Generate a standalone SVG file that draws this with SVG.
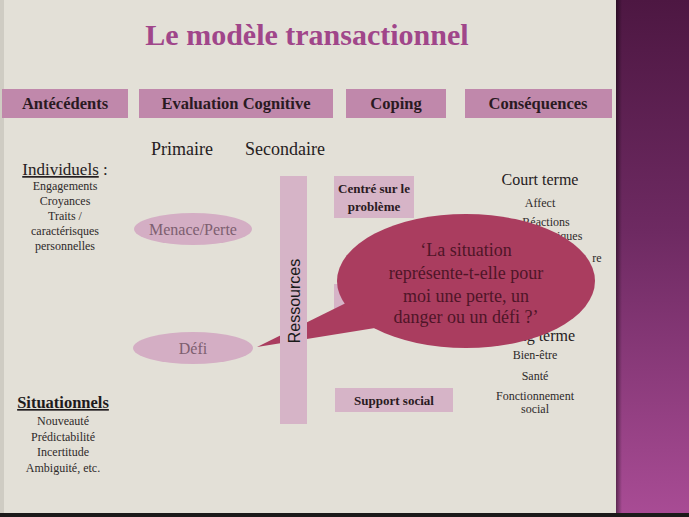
<svg xmlns="http://www.w3.org/2000/svg" width="689" height="517" viewBox="0 0 689 517">
<defs>
<linearGradient id="band" x1="0" y1="0" x2="0" y2="1">
<stop offset="0" stop-color="#4d1742"/>
<stop offset="0.45" stop-color="#6e2a62"/>
<stop offset="1" stop-color="#a94c95"/>
</linearGradient>
<linearGradient id="shadow" x1="0" y1="0" x2="1" y2="0">
<stop offset="0" stop-color="#000" stop-opacity="0.45"/>
<stop offset="1" stop-color="#000" stop-opacity="0"/>
</linearGradient>
<style>
text{font-family:'Liberation Serif','Times New Roman','DejaVu Serif',serif}
.hdr{fill:#c088ab}
.hdrt{font-weight:bold;font-size:16.5px;fill:#2a1a22;text-anchor:middle}
.box{fill:#d6b4c7}
.boxt{font-weight:bold;font-size:13px;fill:#2a1a22;text-anchor:middle}
.sub{font-size:18px;fill:#262022;text-anchor:middle}
.item{font-size:12px;fill:#2e2a2a;text-anchor:middle}
.mid{font-size:16px;fill:#262022;text-anchor:middle}
.ell{fill:#d4aec4}
.ellt{font-size:16px;fill:#7d5f70;text-anchor:middle}
.bub{fill:#aa3d5f}
.bubt{font-size:18px;fill:#4f1528;text-anchor:middle}
</style>
</defs>
<rect x="0" y="0" width="689" height="517" fill="#e3e0d7"/>
<rect x="0" y="0" width="4" height="517" fill="#cfccc3"/>
<rect x="616" y="0" width="73" height="517" fill="url(#band)"/>
<rect x="616" y="0" width="6" height="517" fill="url(#shadow)"/>
<rect x="0" y="513" width="689" height="4" fill="#1c1a1a"/>

<text id="title" x="307" y="45" font-family="Liberation Serif, Times New Roman, DejaVu Serif, serif" font-size="30" font-weight="bold" fill="#a0468a" text-anchor="middle">Le modèle transactionnel</text>

<g id="h-antecedents"><rect class="hdr" x="2" y="89" width="126" height="29"/><text class="hdrt" x="65" y="109">Antécédents</text></g>
<g id="h-evaluation"><rect class="hdr" x="139" y="89" width="194" height="29"/><text class="hdrt" x="236" y="109">Evaluation Cognitive</text></g>
<g id="h-coping"><rect class="hdr" x="346" y="89" width="100" height="29"/><text class="hdrt" x="396" y="109">Coping</text></g>
<g id="h-consequences"><rect class="hdr" x="465" y="89" width="147" height="29"/><text class="hdrt" x="538" y="109">Conséquences</text></g>

<g id="primaire"><text class="sub" x="182" y="155">Primaire</text></g>
<g id="secondaire"><text class="sub" x="285" y="155">Secondaire</text></g>

<g id="individuels">
<text x="65" y="175" font-size="17" fill="#262022" text-anchor="middle"><tspan text-decoration="underline">Individuels</tspan> :</text>
<text class="item" x="65" y="190">Engagements</text>
<text class="item" x="65" y="205">Croyances</text>
<text class="item" x="65" y="220">Traits /</text>
<text class="item" x="65" y="235">caractérisques</text>
<text class="item" x="65" y="250">personnelles</text>
</g>

<g id="situationnels">
<text x="63" y="408" font-size="16.5" font-weight="bold" fill="#1e1a1c" text-anchor="middle" text-decoration="underline">Situationnels</text>
<text class="item" x="63" y="425">Nouveauté</text>
<text class="item" x="63" y="441">Prédictabilité</text>
<text class="item" x="63" y="456">Incertitude</text>
<text class="item" x="63" y="472">Ambiguité, etc.</text>
</g>

<g id="menace"><ellipse class="ell" cx="193" cy="229" rx="59" ry="16"/><text class="ellt" x="193" y="235">Menace/Perte</text></g>
<g id="defi"><ellipse class="ell" cx="193" cy="348" rx="60" ry="16"/><text class="ellt" x="193" y="354">Défi</text></g>

<g id="centre-probleme"><rect class="box" x="334" y="176" width="80" height="42"/><text class="boxt" x="374" y="193">Centré sur le</text><text class="boxt" x="374" y="211">problème</text></g>
<g id="centre-emotion"><rect class="box" x="334" y="284" width="80" height="42"/></g>
<g id="support-social"><rect class="box" x="335" y="388" width="118" height="24"/><text class="boxt" x="394" y="405">Support social</text></g>

<g id="court-terme">
<text class="mid" x="540" y="185">Court terme</text>
<text class="item" x="540" y="207">Affect</text>
<text class="item" x="546" y="226">Réactions</text>
<text class="item" x="546" y="240">physiologiques</text>
<text class="item" x="597" y="262" text-anchor="end">re</text>
</g>
<g id="long-terme">
<text class="mid" x="538" y="341">Long terme</text>
<text class="item" x="535" y="359">Bien-être</text>
<text class="item" x="535" y="380">Santé</text>
<text class="item" x="535" y="400">Fonctionnement</text>
<text class="item" x="535" y="413">social</text>
</g>

<g id="connectors"></g>

<g id="bubble">
<ellipse class="bub" cx="466" cy="281" rx="129" ry="67"/>
<polygon class="bub" points="257,347 350,301 375,328"/>
<text class="bubt" x="466" y="256">‘La situation</text>
<text class="bubt" x="466" y="279">représente-t-elle  pour</text>
<text class="bubt" x="466" y="302">moi une perte, un</text>
<text class="bubt" x="466" y="323">danger ou un défi ?’</text>
</g>

<g id="ressources">
<rect class="box" x="280" y="176" width="27" height="248"/>
<text x="300" y="301" style="font-family:'Liberation Sans',Arial,sans-serif" font-size="16" fill="#1a1a1a" text-anchor="middle" transform="rotate(-90 300 301)">Ressources</text>
</g>
</svg>
